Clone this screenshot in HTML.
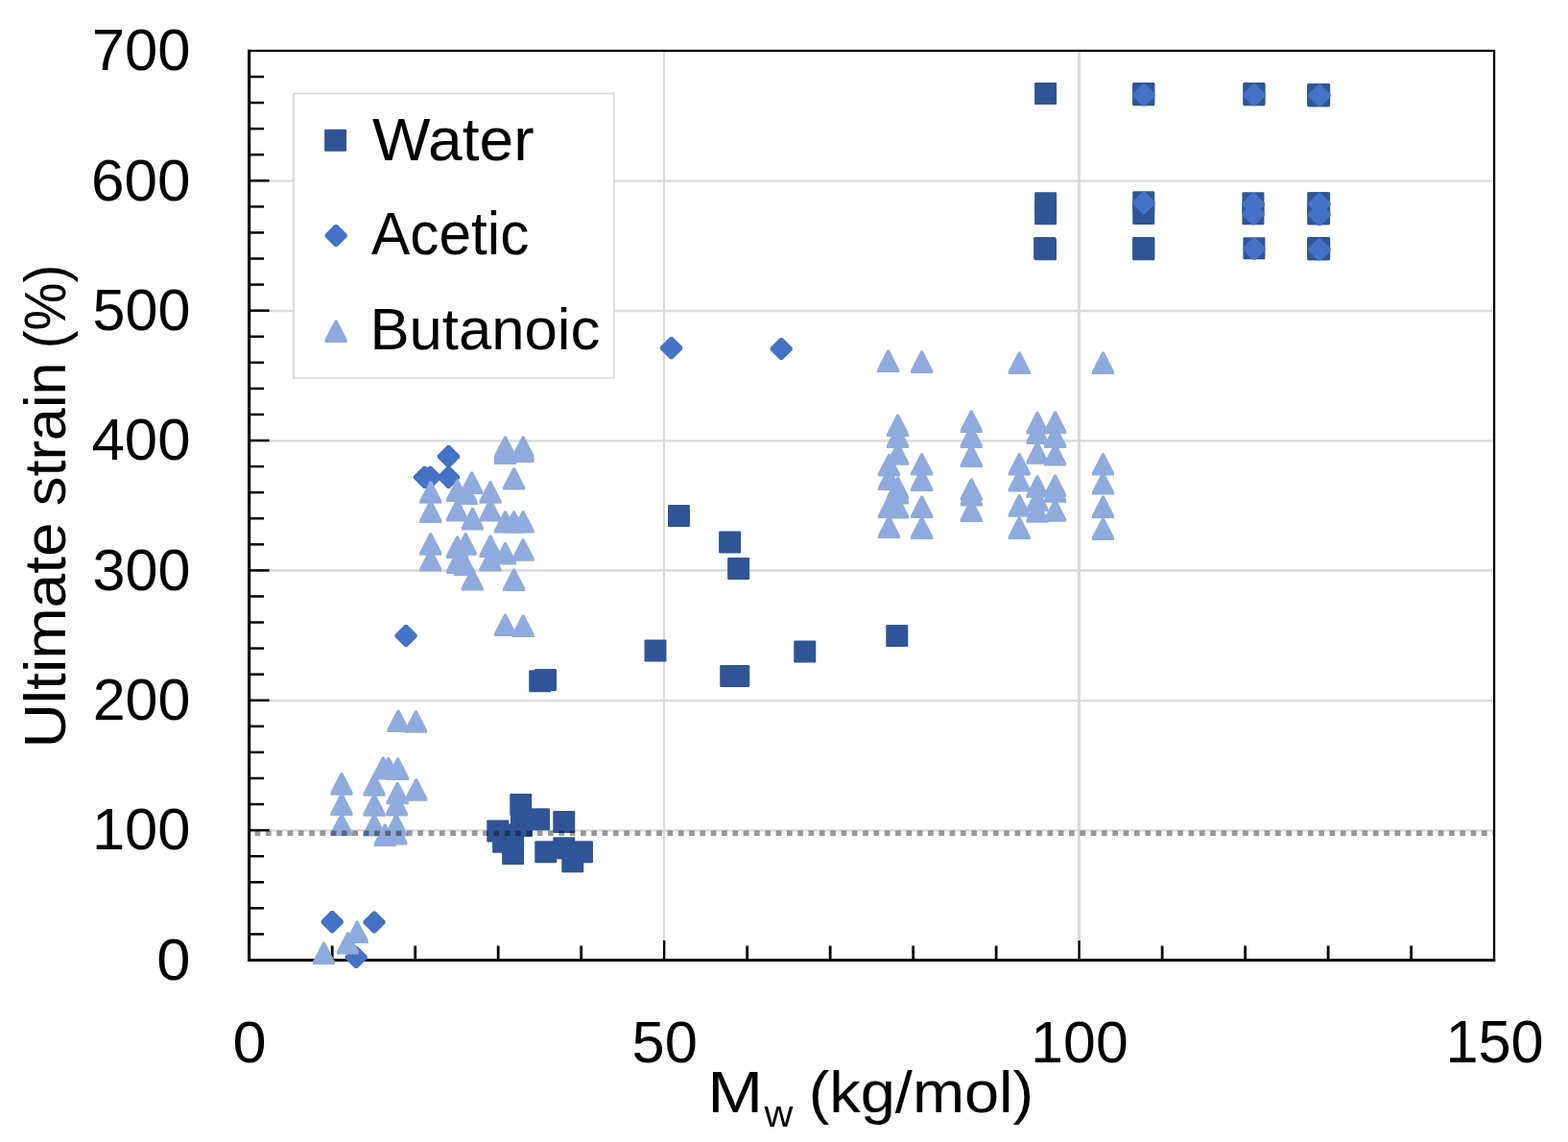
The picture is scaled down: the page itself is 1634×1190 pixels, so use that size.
<!DOCTYPE html>
<html lang="en"><head><meta charset="utf-8"><title>Ultimate strain vs Mw</title>
<style>html,body{margin:0;padding:0;background:#fff}svg{display:block}text{font-family:"Liberation Sans", sans-serif;fill:#000}</style></head><body>
<svg width="1634" height="1190" viewBox="0 0 1634 1190">
<rect width="1634" height="1190" fill="#fff"/>
<g stroke="#D9D9D9" fill="none">
<line x1="259.7" x2="1557.1" y1="865.4" y2="865.4" stroke-width="2.3"/>
<line x1="259.7" x2="1557.1" y1="730.2" y2="730.2" stroke-width="2.3"/>
<line x1="259.7" x2="1557.1" y1="594.5" y2="594.5" stroke-width="2.3"/>
<line x1="259.7" x2="1557.1" y1="459.4" y2="459.4" stroke-width="2.3"/>
<line x1="259.7" x2="1557.1" y1="324.0" y2="324.0" stroke-width="2.3"/>
<line x1="259.7" x2="1557.1" y1="188.7" y2="188.7" stroke-width="2.3"/>
<line x1="692" x2="692" y1="52.9" y2="1000.5" stroke-width="2.1"/>
<line x1="1124.5" x2="1124.5" y1="52.9" y2="1000.5" stroke-width="2.9"/>
</g>
<g stroke="#000" fill="none">
<rect x="259.7" y="52.9" width="1297.40" height="947.60" stroke-width="2.2"/>
<line x1="259.7" x2="259.7" y1="51.8" y2="1002.0" stroke-width="3"/>
<line x1="258.2" x2="1558.1999999999998" y1="1000.5" y2="1000.5" stroke-width="3"/>
<line x1="259.7" x2="275.00" y1="973.43" y2="973.43" stroke-width="2.5"/>
<line x1="259.7" x2="275.00" y1="946.35" y2="946.35" stroke-width="2.5"/>
<line x1="259.7" x2="275.00" y1="919.28" y2="919.28" stroke-width="2.5"/>
<line x1="259.7" x2="275.00" y1="892.20" y2="892.20" stroke-width="2.5"/>
<line x1="259.7" x2="280.70" y1="865.13" y2="865.13" stroke-width="2.5"/>
<line x1="259.7" x2="275.00" y1="838.05" y2="838.05" stroke-width="2.5"/>
<line x1="259.7" x2="275.00" y1="810.98" y2="810.98" stroke-width="2.5"/>
<line x1="259.7" x2="275.00" y1="783.91" y2="783.91" stroke-width="2.5"/>
<line x1="259.7" x2="275.00" y1="756.83" y2="756.83" stroke-width="2.5"/>
<line x1="259.7" x2="280.70" y1="729.76" y2="729.76" stroke-width="2.5"/>
<line x1="259.7" x2="275.00" y1="702.68" y2="702.68" stroke-width="2.5"/>
<line x1="259.7" x2="275.00" y1="675.61" y2="675.61" stroke-width="2.5"/>
<line x1="259.7" x2="275.00" y1="648.53" y2="648.53" stroke-width="2.5"/>
<line x1="259.7" x2="275.00" y1="621.46" y2="621.46" stroke-width="2.5"/>
<line x1="259.7" x2="280.70" y1="594.39" y2="594.39" stroke-width="2.5"/>
<line x1="259.7" x2="275.00" y1="567.31" y2="567.31" stroke-width="2.5"/>
<line x1="259.7" x2="275.00" y1="540.24" y2="540.24" stroke-width="2.5"/>
<line x1="259.7" x2="275.00" y1="513.16" y2="513.16" stroke-width="2.5"/>
<line x1="259.7" x2="275.00" y1="486.09" y2="486.09" stroke-width="2.5"/>
<line x1="259.7" x2="280.70" y1="459.01" y2="459.01" stroke-width="2.5"/>
<line x1="259.7" x2="275.00" y1="431.94" y2="431.94" stroke-width="2.5"/>
<line x1="259.7" x2="275.00" y1="404.87" y2="404.87" stroke-width="2.5"/>
<line x1="259.7" x2="275.00" y1="377.79" y2="377.79" stroke-width="2.5"/>
<line x1="259.7" x2="275.00" y1="350.72" y2="350.72" stroke-width="2.5"/>
<line x1="259.7" x2="280.70" y1="323.64" y2="323.64" stroke-width="2.5"/>
<line x1="259.7" x2="275.00" y1="296.57" y2="296.57" stroke-width="2.5"/>
<line x1="259.7" x2="275.00" y1="269.49" y2="269.49" stroke-width="2.5"/>
<line x1="259.7" x2="275.00" y1="242.42" y2="242.42" stroke-width="2.5"/>
<line x1="259.7" x2="275.00" y1="215.35" y2="215.35" stroke-width="2.5"/>
<line x1="259.7" x2="280.70" y1="188.27" y2="188.27" stroke-width="2.5"/>
<line x1="259.7" x2="275.00" y1="161.20" y2="161.20" stroke-width="2.5"/>
<line x1="259.7" x2="275.00" y1="134.12" y2="134.12" stroke-width="2.5"/>
<line x1="259.7" x2="275.00" y1="107.05" y2="107.05" stroke-width="2.5"/>
<line x1="259.7" x2="275.00" y1="79.97" y2="79.97" stroke-width="2.5"/>
<line x1="346.19" x2="346.19" y1="1000.5" y2="985.50" stroke-width="2.8"/>
<line x1="432.69" x2="432.69" y1="1000.5" y2="985.50" stroke-width="2.8"/>
<line x1="519.18" x2="519.18" y1="1000.5" y2="985.50" stroke-width="2.8"/>
<line x1="605.67" x2="605.67" y1="1000.5" y2="985.50" stroke-width="2.8"/>
<line x1="692.17" x2="692.17" y1="1000.5" y2="980.00" stroke-width="2.3"/>
<line x1="778.66" x2="778.66" y1="1000.5" y2="985.50" stroke-width="2.8"/>
<line x1="865.15" x2="865.15" y1="1000.5" y2="985.50" stroke-width="2.8"/>
<line x1="951.65" x2="951.65" y1="1000.5" y2="985.50" stroke-width="2.8"/>
<line x1="1038.14" x2="1038.14" y1="1000.5" y2="985.50" stroke-width="2.8"/>
<line x1="1124.63" x2="1124.63" y1="1000.5" y2="980.00" stroke-width="2.3"/>
<line x1="1211.13" x2="1211.13" y1="1000.5" y2="985.50" stroke-width="2.8"/>
<line x1="1297.62" x2="1297.62" y1="1000.5" y2="985.50" stroke-width="2.8"/>
<line x1="1384.11" x2="1384.11" y1="1000.5" y2="985.50" stroke-width="2.8"/>
<line x1="1470.61" x2="1470.61" y1="1000.5" y2="985.50" stroke-width="2.8"/>
</g>
<g fill="#2F5597">
<rect x="531.25" y="827.10" width="23" height="23" rx="1.2"/>
<rect x="507.25" y="854.40" width="23" height="23" rx="1.2"/>
<rect x="532.00" y="848.90" width="23" height="23" rx="1.2"/>
<rect x="550.00" y="842.25" width="23" height="23" rx="1.2"/>
<rect x="576.25" y="845.00" width="23" height="23" rx="1.2"/>
<rect x="513.10" y="865.75" width="23" height="23" rx="1.2"/>
<rect x="523.10" y="878.10" width="23" height="23" rx="1.2"/>
<rect x="523.10" y="858.50" width="23" height="23" rx="1.2"/>
<rect x="557.25" y="876.25" width="23" height="23" rx="1.2"/>
<rect x="576.25" y="872.25" width="23" height="23" rx="1.2"/>
<rect x="595.00" y="876.25" width="23" height="23" rx="1.2"/>
<rect x="585.25" y="886.25" width="23" height="23" rx="1.2"/>
<rect x="696.00" y="526.00" width="23" height="23" rx="1.2"/>
<rect x="749.10" y="553.40" width="23" height="23" rx="1.2"/>
<rect x="758.10" y="580.90" width="23" height="23" rx="1.2"/>
<rect x="671.50" y="666.40" width="23" height="23" rx="1.2"/>
<rect x="750.20" y="693.00" width="23" height="23" rx="1.2"/>
<rect x="758.20" y="693.00" width="23" height="23" rx="1.2"/>
<rect x="827.25" y="667.50" width="23" height="23" rx="1.2"/>
<rect x="923.25" y="650.90" width="23" height="23" rx="1.2"/>
<rect x="551.20" y="698.20" width="23" height="23" rx="1.2"/>
<rect x="557.00" y="697.00" width="23" height="23" rx="1.2"/>
<rect x="1078.10" y="86.10" width="23" height="23" rx="1.2"/>
<rect x="1078.10" y="200.25" width="23" height="23" rx="1.2"/>
<rect x="1078.10" y="211.25" width="23" height="23" rx="1.2"/>
<rect x="1077.10" y="247.00" width="23" height="23" rx="1.2"/>
<rect x="1078.00" y="248.25" width="23" height="23" rx="1.2"/>
<rect x="1180.25" y="86.00" width="23" height="23" rx="1.2"/>
<rect x="1180.25" y="87.20" width="23" height="23" rx="1.2"/>
<rect x="1180.25" y="199.25" width="23" height="23" rx="1.2"/>
<rect x="1180.25" y="211.00" width="23" height="23" rx="1.2"/>
<rect x="1180.25" y="247.00" width="23" height="23" rx="1.2"/>
<rect x="1180.25" y="248.25" width="23" height="23" rx="1.2"/>
<rect x="1295.40" y="86.00" width="23" height="23" rx="1.2"/>
<rect x="1295.40" y="87.20" width="23" height="23" rx="1.2"/>
<rect x="1294.40" y="200.25" width="23" height="23" rx="1.2"/>
<rect x="1294.40" y="211.25" width="23" height="23" rx="1.2"/>
<rect x="1295.40" y="247.20" width="23" height="23" rx="1.2"/>
<rect x="1363.10" y="87.00" width="23" height="23" rx="1.2"/>
<rect x="1363.10" y="88.20" width="23" height="23" rx="1.2"/>
<rect x="1363.10" y="200.25" width="23" height="23" rx="1.2"/>
<rect x="1363.10" y="211.25" width="23" height="23" rx="1.2"/>
<rect x="1363.10" y="247.00" width="23" height="23" rx="1.2"/>
<rect x="1363.10" y="248.25" width="23" height="23" rx="1.2"/>
<rect x="1362.20" y="87.00" width="23" height="23" rx="1.2"/>
<rect x="1362.20" y="88.20" width="23" height="23" rx="1.2"/>
<rect x="1362.20" y="200.25" width="23" height="23" rx="1.2"/>
<rect x="1362.20" y="211.25" width="23" height="23" rx="1.2"/>
<rect x="1362.20" y="247.00" width="23" height="23" rx="1.2"/>
<rect x="1362.20" y="248.25" width="23" height="23" rx="1.2"/>
</g>
<g fill="#4472C4">
<path d="M334.60 959.30L344.90 949.00L347.50 949.00L357.80 959.30L357.80 961.90L347.50 972.20L344.90 972.20L334.60 961.90Z"/>
<path d="M378.40 959.70L388.70 949.40L391.30 949.40L401.60 959.70L401.60 962.30L391.30 972.60L388.70 972.60L378.40 962.30Z"/>
<path d="M359.60 996.20L369.90 985.90L372.50 985.90L382.80 996.20L382.80 998.80L372.50 1009.10L369.90 1009.10L359.60 998.80Z"/>
<path d="M411.50 661.20L421.80 650.90L424.40 650.90L434.70 661.20L434.70 663.80L424.40 674.10L421.80 674.10L411.50 663.80Z"/>
<path d="M430.90 496.00L441.20 485.70L443.80 485.70L454.10 496.00L454.10 498.60L443.80 508.90L441.20 508.90L430.90 498.60Z"/>
<path d="M436.80 496.00L447.10 485.70L449.70 485.70L460.00 496.00L460.00 498.60L449.70 508.90L447.10 508.90L436.80 498.60Z"/>
<path d="M455.84 496.00L466.14 485.70L468.74 485.70L479.04 496.00L479.04 498.60L468.74 508.90L466.14 508.90L455.84 498.60Z"/>
<path d="M455.84 474.30L466.14 464.00L468.74 464.00L479.04 474.30L479.04 476.90L468.74 487.20L466.14 487.20L455.84 476.90Z"/>
<path d="M688.00 361.30L698.30 351.00L700.90 351.00L711.20 361.30L711.20 363.90L700.90 374.20L698.30 374.20L688.00 363.90Z"/>
<path d="M802.60 362.20L812.90 351.90L815.50 351.90L825.80 362.20L825.80 364.80L815.50 375.10L812.90 375.10L802.60 364.80Z"/>
<path d="M1180.40 97.70L1190.70 87.40L1193.30 87.40L1203.60 97.70L1203.60 100.30L1193.30 110.60L1190.70 110.60L1180.40 100.30Z"/>
<path d="M1180.40 209.95L1190.70 199.65L1193.30 199.65L1203.60 209.95L1203.60 212.55L1193.30 222.85L1190.70 222.85L1180.40 212.55Z"/>
<path d="M1295.40 97.70L1305.70 87.40L1308.30 87.40L1318.60 97.70L1318.60 100.30L1308.30 110.60L1305.70 110.60L1295.40 100.30Z"/>
<path d="M1294.65 211.20L1304.95 200.90L1307.55 200.90L1317.85 211.20L1317.85 213.80L1307.55 224.10L1304.95 224.10L1294.65 213.80Z"/>
<path d="M1294.65 221.70L1304.95 211.40L1307.55 211.40L1317.85 221.70L1317.85 224.30L1307.55 234.60L1304.95 234.60L1294.65 224.30Z"/>
<path d="M1295.40 257.95L1305.70 247.65L1308.30 247.65L1318.60 257.95L1318.60 260.55L1308.30 270.85L1305.70 270.85L1295.40 260.55Z"/>
<path d="M1363.40 98.20L1373.70 87.90L1376.30 87.90L1386.60 98.20L1386.60 100.80L1376.30 111.10L1373.70 111.10L1363.40 100.80Z"/>
<path d="M1363.40 211.20L1373.70 200.90L1376.30 200.90L1386.60 211.20L1386.60 213.80L1376.30 224.10L1373.70 224.10L1363.40 213.80Z"/>
<path d="M1363.40 222.45L1373.70 212.15L1376.30 212.15L1386.60 222.45L1386.60 225.05L1376.30 235.35L1373.70 235.35L1363.40 225.05Z"/>
<path d="M1363.40 258.70L1373.70 248.40L1376.30 248.40L1386.60 258.70L1386.60 261.30L1376.30 271.60L1373.70 271.60L1363.40 261.30Z"/>
</g>
<g fill="#8FAADC">
<path d="M325.95 1005.00L325.95 1001.90L336.40 981.60L338.60 981.60L349.05 1001.90L349.05 1005.00Z"/>
<path d="M350.95 994.60L350.95 991.50L361.40 971.20L363.60 971.20L374.05 991.50L374.05 994.60Z"/>
<path d="M360.65 982.90L360.65 979.80L371.10 959.50L373.30 959.50L383.75 979.80L383.75 982.90Z"/>
<path d="M403.45 763.10L403.45 760.00L413.90 739.70L416.10 739.70L426.55 760.00L426.55 763.10Z"/>
<path d="M421.85 763.70L421.85 760.60L432.30 740.30L434.50 740.30L444.95 760.60L444.95 763.70Z"/>
<path d="M387.75 812.00L387.75 808.90L398.20 788.60L400.40 788.60L410.85 808.90L410.85 812.00Z"/>
<path d="M393.35 812.40L393.35 809.30L403.80 789.00L406.00 789.00L416.45 809.30L416.45 812.40Z"/>
<path d="M403.05 813.00L403.05 809.90L413.50 789.60L415.70 789.60L426.15 809.90L426.15 813.00Z"/>
<path d="M344.45 828.70L344.45 825.60L354.90 805.30L357.10 805.30L367.55 825.60L367.55 828.70Z"/>
<path d="M344.45 850.00L344.45 846.90L354.90 826.60L357.10 826.60L367.55 846.90L367.55 850.00Z"/>
<path d="M344.45 871.00L344.45 867.90L354.90 847.60L357.10 847.60L367.55 867.90L367.55 871.00Z"/>
<path d="M378.45 829.80L378.45 826.70L388.90 806.40L391.10 806.40L401.55 826.70L401.55 829.80Z"/>
<path d="M378.45 850.70L378.45 847.60L388.90 827.30L391.10 827.30L401.55 847.60L401.55 850.70Z"/>
<path d="M378.45 871.50L378.45 868.40L388.90 848.10L391.10 848.10L401.55 868.40L401.55 871.50Z"/>
<path d="M402.65 838.30L402.65 835.20L413.10 814.90L415.30 814.90L425.75 835.20L425.75 838.30Z"/>
<path d="M401.85 850.60L401.85 847.50L412.30 827.20L414.50 827.20L424.95 847.50L424.95 850.60Z"/>
<path d="M422.15 834.70L422.15 831.60L432.60 811.30L434.80 811.30L445.25 831.60L445.25 834.70Z"/>
<path d="M389.70 881.90L389.70 878.80L400.15 858.50L402.35 858.50L412.80 878.80L412.80 881.90Z"/>
<path d="M401.35 871.50L401.35 868.40L411.80 848.10L414.00 848.10L424.45 868.40L424.45 871.50Z"/>
<path d="M401.35 880.60L401.35 877.50L411.80 857.20L414.00 857.20L424.45 877.50L424.45 880.60Z"/>
<path d="M437.20 524.75L437.20 521.65L447.65 501.35L449.85 501.35L460.30 521.65L460.30 524.75Z"/>
<path d="M437.20 545.00L437.20 541.90L447.65 521.60L449.85 521.60L460.30 541.90L460.30 545.00Z"/>
<path d="M437.20 578.75L437.20 575.65L447.65 555.35L449.85 555.35L460.30 575.65L460.30 578.75Z"/>
<path d="M437.20 595.60L437.20 592.50L447.65 572.20L449.85 572.20L460.30 592.50L460.30 595.60Z"/>
<path d="M464.95 523.00L464.95 519.90L475.40 499.60L477.60 499.60L488.05 519.90L488.05 523.00Z"/>
<path d="M464.95 543.50L464.95 540.40L475.40 520.10L477.60 520.10L488.05 540.40L488.05 543.50Z"/>
<path d="M464.95 581.90L464.95 578.80L475.40 558.50L477.60 558.50L488.05 578.80L488.05 581.90Z"/>
<path d="M464.95 598.00L464.95 594.90L475.40 574.60L477.60 574.60L488.05 594.90L488.05 598.00Z"/>
<path d="M474.65 526.00L474.65 522.90L485.10 502.60L487.30 502.60L497.75 522.90L497.75 526.00Z"/>
<path d="M473.65 578.75L473.65 575.65L484.10 555.35L486.30 555.35L496.75 575.65L496.75 578.75Z"/>
<path d="M472.85 600.00L472.85 596.90L483.30 576.60L485.50 576.60L495.95 596.90L495.95 600.00Z"/>
<path d="M480.05 514.90L480.05 511.80L490.50 491.50L492.70 491.50L503.15 511.80L503.15 514.90Z"/>
<path d="M480.85 552.50L480.85 549.40L491.30 529.10L493.50 529.10L503.95 549.40L503.95 552.50Z"/>
<path d="M480.65 615.60L480.65 612.50L491.10 592.20L493.30 592.20L503.75 612.50L503.75 615.60Z"/>
<path d="M499.45 524.75L499.45 521.65L509.90 501.35L512.10 501.35L522.55 521.65L522.55 524.75Z"/>
<path d="M499.45 543.50L499.45 540.40L509.90 520.10L512.10 520.10L522.55 540.40L522.55 543.50Z"/>
<path d="M499.45 581.00L499.45 577.90L509.90 557.60L512.10 557.60L522.55 577.90L522.55 581.00Z"/>
<path d="M499.45 595.60L499.45 592.50L509.90 572.20L512.10 572.20L522.55 592.50L522.55 595.60Z"/>
<path d="M514.95 477.80L514.95 474.70L525.40 454.40L527.60 454.40L538.05 474.70L538.05 477.80Z"/>
<path d="M514.95 481.00L514.95 477.90L525.40 457.60L527.60 457.60L538.05 477.90L538.05 481.00Z"/>
<path d="M514.95 483.90L514.95 480.80L525.40 460.50L527.60 460.50L538.05 480.80L538.05 483.90Z"/>
<path d="M514.95 555.60L514.95 552.50L525.40 532.20L527.60 532.20L538.05 552.50L538.05 555.60Z"/>
<path d="M514.95 588.50L514.95 585.40L525.40 565.10L527.60 565.10L538.05 585.40L538.05 588.50Z"/>
<path d="M514.95 663.10L514.95 660.00L525.40 639.70L527.60 639.70L538.05 660.00L538.05 663.10Z"/>
<path d="M524.05 510.60L524.05 507.50L534.50 487.20L536.70 487.20L547.15 507.50L547.15 510.60Z"/>
<path d="M524.05 555.60L524.05 552.50L534.50 532.20L536.70 532.20L547.15 552.50L547.15 555.60Z"/>
<path d="M524.05 616.00L524.05 612.90L534.50 592.60L536.70 592.60L547.15 612.90L547.15 616.00Z"/>
<path d="M533.55 477.80L533.55 474.70L544.00 454.40L546.20 454.40L556.65 474.70L556.65 477.80Z"/>
<path d="M533.55 481.90L533.55 478.80L544.00 458.50L546.20 458.50L556.65 478.80L556.65 481.90Z"/>
<path d="M533.55 555.60L533.55 552.50L544.00 532.20L546.20 532.20L556.65 552.50L556.65 555.60Z"/>
<path d="M533.55 584.75L533.55 581.65L544.00 561.35L546.20 561.35L556.65 581.65L556.65 584.75Z"/>
<path d="M533.55 664.00L533.55 660.90L544.00 640.60L546.20 640.60L556.65 660.90L556.65 664.00Z"/>
<path d="M914.05 388.00L914.05 384.90L924.50 364.60L926.70 364.60L937.15 384.90L937.15 388.00Z"/>
<path d="M914.85 496.50L914.85 493.40L925.30 473.10L927.50 473.10L937.95 493.40L937.95 496.50Z"/>
<path d="M914.85 511.00L914.85 507.90L925.30 487.60L927.50 487.60L937.95 507.90L937.95 511.00Z"/>
<path d="M914.85 540.00L914.85 536.90L925.30 516.60L927.50 516.60L937.95 536.90L937.95 540.00Z"/>
<path d="M914.85 561.00L914.85 557.90L925.30 537.60L927.50 537.60L937.95 557.90L937.95 561.00Z"/>
<path d="M924.05 455.00L924.05 451.90L934.50 431.60L936.70 431.60L947.15 451.90L947.15 455.00Z"/>
<path d="M924.05 467.00L924.05 463.90L934.50 443.60L936.70 443.60L947.15 463.90L947.15 467.00Z"/>
<path d="M924.05 484.75L924.05 481.65L934.50 461.35L936.70 461.35L947.15 481.65L947.15 484.75Z"/>
<path d="M924.05 520.50L924.05 517.40L934.50 497.10L936.70 497.10L947.15 517.40L947.15 520.50Z"/>
<path d="M924.05 525.60L924.05 522.50L934.50 502.20L936.70 502.20L947.15 522.50L947.15 525.60Z"/>
<path d="M924.05 540.60L924.05 537.50L934.50 517.20L936.70 517.20L947.15 537.50L947.15 540.60Z"/>
<path d="M949.05 389.00L949.05 385.90L959.50 365.60L961.70 365.60L972.15 385.90L972.15 389.00Z"/>
<path d="M949.05 495.60L949.05 492.50L959.50 472.20L961.70 472.20L972.15 492.50L972.15 495.60Z"/>
<path d="M949.05 511.90L949.05 508.80L959.50 488.50L961.70 488.50L972.15 508.80L972.15 511.90Z"/>
<path d="M949.05 540.00L949.05 536.90L959.50 516.60L961.70 516.60L972.15 536.90L972.15 540.00Z"/>
<path d="M949.05 561.90L949.05 558.80L959.50 538.50L961.70 538.50L972.15 558.80L972.15 561.90Z"/>
<path d="M1000.70 451.00L1000.70 447.90L1011.15 427.60L1013.35 427.60L1023.80 447.90L1023.80 451.00Z"/>
<path d="M1000.70 466.90L1000.70 463.80L1011.15 443.50L1013.35 443.50L1023.80 463.80L1023.80 466.90Z"/>
<path d="M1000.70 486.90L1000.70 483.80L1011.15 463.50L1013.35 463.50L1023.80 483.80L1023.80 486.90Z"/>
<path d="M1000.70 521.90L1000.70 518.80L1011.15 498.50L1013.35 498.50L1023.80 518.80L1023.80 521.90Z"/>
<path d="M1000.70 527.50L1000.70 524.40L1011.15 504.10L1013.35 504.10L1023.80 524.40L1023.80 527.50Z"/>
<path d="M1000.70 544.00L1000.70 540.90L1011.15 520.60L1013.35 520.60L1023.80 540.90L1023.80 544.00Z"/>
<path d="M1050.70 390.00L1050.70 386.90L1061.15 366.60L1063.35 366.60L1073.80 386.90L1073.80 390.00Z"/>
<path d="M1050.70 495.60L1050.70 492.50L1061.15 472.20L1063.35 472.20L1073.80 492.50L1073.80 495.60Z"/>
<path d="M1050.70 512.50L1050.70 509.40L1061.15 489.10L1063.35 489.10L1073.80 509.40L1073.80 512.50Z"/>
<path d="M1050.70 538.75L1050.70 535.65L1061.15 515.35L1063.35 515.35L1073.80 535.65L1073.80 538.75Z"/>
<path d="M1050.70 561.90L1050.70 558.80L1061.15 538.50L1063.35 538.50L1073.80 558.80L1073.80 561.90Z"/>
<path d="M1069.45 452.50L1069.45 449.40L1079.90 429.10L1082.10 429.10L1092.55 449.40L1092.55 452.50Z"/>
<path d="M1069.45 463.10L1069.45 460.00L1079.90 439.70L1082.10 439.70L1092.55 460.00L1092.55 463.10Z"/>
<path d="M1069.45 483.75L1069.45 480.65L1079.90 460.35L1082.10 460.35L1092.55 480.65L1092.55 483.75Z"/>
<path d="M1069.45 518.75L1069.45 515.65L1079.90 495.35L1082.10 495.35L1092.55 515.65L1092.55 518.75Z"/>
<path d="M1069.45 533.00L1069.45 529.90L1079.90 509.60L1082.10 509.60L1092.55 529.90L1092.55 533.00Z"/>
<path d="M1069.45 544.75L1069.45 541.65L1079.90 521.35L1082.10 521.35L1092.55 541.65L1092.55 544.75Z"/>
<path d="M1088.05 451.90L1088.05 448.80L1098.50 428.50L1100.70 428.50L1111.15 448.80L1111.15 451.90Z"/>
<path d="M1088.05 466.90L1088.05 463.80L1098.50 443.50L1100.70 443.50L1111.15 463.80L1111.15 466.90Z"/>
<path d="M1088.05 485.60L1088.05 482.50L1098.50 462.20L1100.70 462.20L1111.15 482.50L1111.15 485.60Z"/>
<path d="M1088.05 518.00L1088.05 514.90L1098.50 494.60L1100.70 494.60L1111.15 514.90L1111.15 518.00Z"/>
<path d="M1088.05 523.75L1088.05 520.65L1098.50 500.35L1100.70 500.35L1111.15 520.65L1111.15 523.75Z"/>
<path d="M1088.05 543.75L1088.05 540.65L1098.50 520.35L1100.70 520.35L1111.15 540.65L1111.15 543.75Z"/>
<path d="M1137.95 390.00L1137.95 386.90L1148.40 366.60L1150.60 366.60L1161.05 386.90L1161.05 390.00Z"/>
<path d="M1137.95 495.60L1137.95 492.50L1148.40 472.20L1150.60 472.20L1161.05 492.50L1161.05 495.60Z"/>
<path d="M1137.95 515.60L1137.95 512.50L1148.40 492.20L1150.60 492.20L1161.05 512.50L1161.05 515.60Z"/>
<path d="M1137.95 540.00L1137.95 536.90L1148.40 516.60L1150.60 516.60L1161.05 536.90L1161.05 540.00Z"/>
<path d="M1137.95 562.90L1137.95 559.80L1148.40 539.50L1150.60 539.50L1161.05 559.80L1161.05 562.90Z"/>
</g>
<line x1="265.6" x2="1557.1" y1="868.3" y2="868.3" stroke="#000" stroke-opacity="0.4" stroke-width="5.6" stroke-dasharray="5.7 5.613"/>
<rect x="306" y="97.5" width="333.8" height="296.3" fill="#fff" stroke="#D9D9D9" stroke-width="1.8"/>
<g fill="#2F5597"><rect x="338.10" y="134.80" width="23" height="23" rx="1.2"/></g>
<g fill="#4472C4"><path d="M338.60 244.20L348.90 233.90L351.50 233.90L361.80 244.20L361.80 246.80L351.50 257.10L348.90 257.10L338.60 246.80Z"/></g>
<g fill="#8FAADC"><path d="M338.55 356.90L338.55 353.80L349.00 333.50L351.20 333.50L361.65 353.80L361.65 356.90Z"/></g>
<text transform="translate(387.94 167.00) scale(1.0343 1)" font-size="62">Water</text>
<text transform="translate(386.96 265.40) scale(0.9737 1)" font-size="62">Acetic</text>
<text transform="translate(385.43 364.40) scale(0.9945 1)" font-size="62">Butanoic</text>
<text transform="translate(95.77 73.20) scale(0.9934 1)" font-size="62">700</text>
<text transform="translate(94.95 208.57) scale(1.0015 1)" font-size="62">600</text>
<text transform="translate(96.54 343.94) scale(0.9858 1)" font-size="62">500</text>
<text transform="translate(95.51 479.31) scale(0.9960 1)" font-size="62">400</text>
<text transform="translate(96.54 614.69) scale(0.9858 1)" font-size="62">300</text>
<text transform="translate(96.65 750.06) scale(0.9847 1)" font-size="62">200</text>
<text transform="translate(95.89 885.43) scale(0.9922 1)" font-size="62">100</text>
<text transform="translate(163.34 1020.80) scale(1.0237 1)" font-size="62">0</text>
<text transform="translate(242.46 1107.30) scale(1.0169 1)" font-size="62">0</text>
<text transform="translate(658.52 1107.30) scale(0.9906 1)" font-size="62">50</text>
<text transform="translate(1074.35 1107.30) scale(0.9797 1)" font-size="62">100</text>
<text transform="translate(1506.40 1107.30) scale(0.9891 1)" font-size="62">150</text>
<text font-size="62"><tspan x="737.20" y="1158.6" textLength="57.88" lengthAdjust="spacingAndGlyphs">M</tspan><tspan x="796.40" y="1174.2" font-size="39" textLength="29.82" lengthAdjust="spacingAndGlyphs">w</tspan> <tspan x="842.67" y="1158.6" textLength="234.52" lengthAdjust="spacingAndGlyphs">(kg/mol)</tspan></text>
<text transform="translate(67.9 0) rotate(-90)" font-size="62"><tspan x="-779.52" y="0" textLength="235.31" lengthAdjust="spacingAndGlyphs">Ultimate</tspan> <tspan x="-527.23" y="0" textLength="149.89" lengthAdjust="spacingAndGlyphs">strain</tspan> <tspan x="-363.20" y="0" textLength="87.46" lengthAdjust="spacingAndGlyphs">(%)</tspan></text>
</svg></body></html>
